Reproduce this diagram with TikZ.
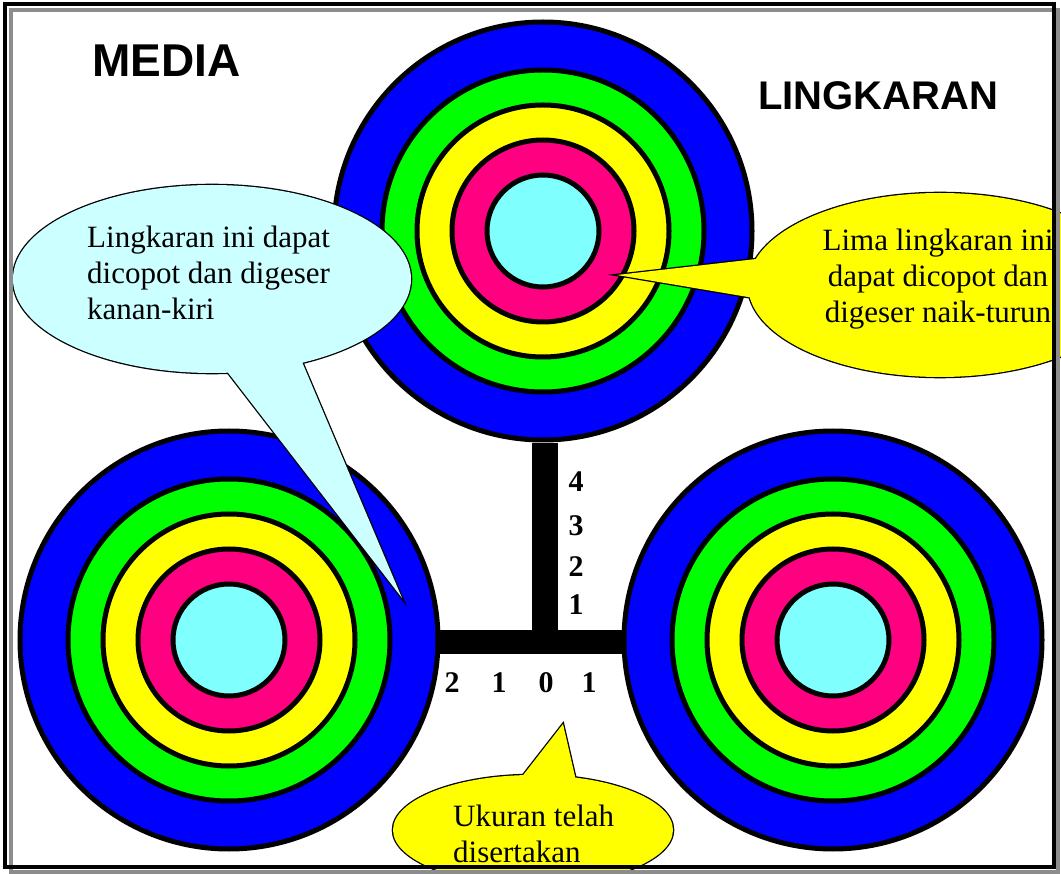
\documentclass[tikz,border=0pt]{standalone}
\usepackage{fontspec}
\setmainfont{Liberation Serif}
\newfontfamily\arialfont{Liberation Sans}
\definecolor{ringblue}{RGB}{0,0,255}
\definecolor{ringgreen}{RGB}{0,255,0}
\definecolor{ringyellow}{RGB}{255,255,0}
\definecolor{ringpink}{RGB}{255,0,128}
\definecolor{ringcyan}{RGB}{128,255,255}
\definecolor{callcyan}{RGB}{204,255,255}
\definecolor{callyellow}{RGB}{255,255,0}
\definecolor{framegray}{RGB}{140,140,140}
\newcommand\drawtarget[1]{%
  \path[ring, fill=ringblue]   (#1) circle[radius=209pt];
  \path[ring, fill=ringgreen]  (#1) circle[radius=161pt];
  \path[ring, fill=ringyellow] (#1) circle[radius=126pt];
  \path[ring, fill=ringpink]   (#1) circle[radius=91pt];
  \path[ring, fill=ringcyan]   (#1) circle[radius=56pt];
}
\begin{document}
\begin{tikzpicture}[x=1pt,y=-1pt,
  ring/.style={draw=black, line width=5pt},
  bar/.style={fill=black},
  outline/.style={draw=black, line width=2.6pt, line join=miter},
  calltext/.style={font=\fontsize{31}{36}\selectfont, inner sep=0pt},
  title/.style={font=\arialfont\bfseries, inner sep=0pt, anchor=base west},
  num/.style={font=\bfseries\fontsize{30}{30}\selectfont, inner sep=0pt, anchor=center}]
\useasboundingbox (0,0) rectangle (1061,874);
\clip (0,0) rectangle (1061,874);
\fill[white] (0,0) rectangle (1061,874);

% targets
\coordinate (ctop) at (543,231);
\coordinate (cleft) at (229,640);
\coordinate (cright) at (833,640);
\drawtarget{ctop}
\drawtarget{cleft}
\drawtarget{cright}

% T ruler
\fill[bar] (532,443) rectangle (558,642);
\fill[bar] (440,630) rectangle (624,654);

% cyan callout
\coordinate (tipA) at (402,598);
\path[outline] (212,279) ellipse[x radius=199pt, y radius=94pt];
\path[outline] (219,361) -- (tipA) -- (297,350) -- cycle;
\fill[callcyan] (212,279) ellipse[x radius=199pt, y radius=94pt];
\fill[callcyan] (219,361) -- (tipA) -- (297,350) -- cycle;

% right yellow callout
\coordinate (tipB) at (617,275);
\path[outline] (940,285) ellipse[x radius=192pt, y radius=92pt];
\path[outline] (765,258) -- (tipB) -- (760,299) -- cycle;
\fill[callyellow] (940,285) ellipse[x radius=192pt, y radius=92pt];
\fill[callyellow] (765,258) -- (tipB) -- (760,299) -- cycle;

% bottom yellow callout
\coordinate (tipC) at (563,724);
\path[outline] (533,830) ellipse[x radius=140pt, y radius=55pt];
\path[outline] (517,783) -- (tipC) -- (577,785) -- cycle;
\fill[callyellow] (533,830) ellipse[x radius=140pt, y radius=55pt];
\fill[callyellow] (517,783) -- (tipC) -- (577,785) -- cycle;

% titles
\node[title, font=\arialfont\bfseries\fontsize{46}{46}\selectfont] (media) at (92,77) {MEDIA};
\node[title, font=\arialfont\bfseries\fontsize{40}{40}\selectfont] (lingk) at (758,110) {LINGKARAN};

% callout texts
\node[calltext, align=left, anchor=base west] (tcyan) at (87,320) {Lingkaran ini dapat\\dicopot dan digeser\\kanan-kiri};
\node[calltext, align=center, anchor=base] (tright) at (938,323) {Lima lingkaran ini\\dapat dicopot dan\\digeser naik-turun};
\node[calltext, align=left, anchor=base west] (tbottom) at (453,862) {Ukuran telah\\disertakan};

% ruler numbers
\node[num] (v4) at (576,482) {4};
\node[num] (v3) at (576,526) {3};
\node[num] (v2) at (576,567) {2};
\node[num] (v1) at (576,605) {1};
\node[num] (h2) at (452,683) {2};
\node[num] (h1) at (499,683) {1};
\node[num] (h0) at (546,683) {0};
\node[num] (h1b) at (589,683) {1};

% frame
\draw[framegray, line width=4pt] (11,10) rectangle (1058,872);
\draw[black, line width=4pt] (5,4.5) rectangle (1054,867);
\end{tikzpicture}
\end{document}
